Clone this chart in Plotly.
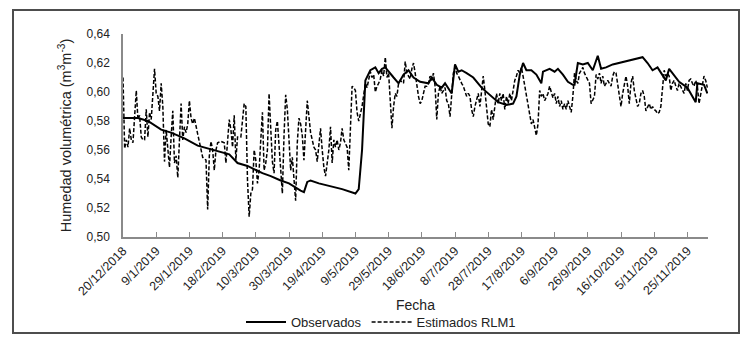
import pandas as pd
import plotly.graph_objects as go

# Series start date; x values are day offsets from it
START = pd.Timestamp("2018-12-20")

# Observed volumetric moisture (day offset, value)
obs_days = [0, 9, 15, 19, 23, 29, 37, 45, 55, 64,
            69, 75, 84, 89, 95, 100, 107, 109, 111, 113,
            118, 125, 132, 140, 142, 144, 146, 149, 152, 154,
            156, 158, 160, 163, 166, 169, 172, 175, 179, 184,
            186, 189, 192, 194, 198, 200, 202, 204, 207, 211,
            216, 221, 226, 231, 235, 237, 239, 241, 243, 246,
            249, 252, 253, 257, 260, 262, 265, 268, 271, 272,
            274, 277, 280, 283, 286, 288, 291, 295, 299, 303,
            313, 316, 319, 322, 327, 329, 335, 340, 345, 346,
            350, 352]
obs_values = [0.582, 0.582, 0.580, 0.577, 0.574, 0.572, 0.568, 0.563, 0.560, 0.557,
              0.551, 0.549, 0.544, 0.542, 0.539, 0.537, 0.532, 0.531, 0.538, 0.539,
              0.537, 0.535, 0.533, 0.530, 0.533, 0.560, 0.608, 0.615, 0.617, 0.613,
              0.616, 0.617, 0.614, 0.610, 0.606, 0.612, 0.615, 0.610, 0.607, 0.606,
              0.610, 0.605, 0.603, 0.606, 0.599, 0.619, 0.614, 0.615, 0.613, 0.610,
              0.603, 0.598, 0.593, 0.591, 0.592, 0.597, 0.612, 0.620, 0.615, 0.615,
              0.612, 0.606, 0.614, 0.616, 0.614, 0.616, 0.612, 0.607, 0.605, 0.605,
              0.620, 0.619, 0.620, 0.615, 0.625, 0.616, 0.617, 0.619, 0.620, 0.621,
              0.624, 0.620, 0.615, 0.617, 0.608, 0.616, 0.607, 0.603, 0.593, 0.606,
              0.605, 0.599]

# Model estimates (RLM1)
est_days = [0, 1, 2, 3, 4, 5, 6, 8, 9, 10,
            11, 12, 13, 14, 15, 16, 17, 19, 20, 21,
            22, 23, 24, 25, 26, 27, 28, 29, 30, 31,
            32, 33, 34, 35, 36, 37, 38, 39, 40, 41,
            42, 43, 45, 47, 48, 50, 51, 52, 53, 54,
            55, 56, 57, 59, 61, 62, 64, 65, 66, 67,
            68, 69, 71, 73, 74, 75, 76, 77, 78, 79,
            80, 81, 82, 83, 84, 85, 86, 87, 88, 89,
            90, 91, 92, 93, 94, 95, 96, 97, 98, 99,
            100, 101, 102, 103, 104, 105, 106, 107, 108, 109,
            110, 111, 112, 113, 115, 116, 117, 119, 120, 121,
            122, 123, 124, 125, 126, 127, 128, 129, 130, 131,
            132, 133, 135, 136, 137, 138, 139, 140, 141, 142,
            143, 144, 145, 146, 147, 148, 149, 150, 151, 152,
            153, 154, 155, 156, 157, 158, 159, 160, 161, 162,
            163, 164, 165, 166, 167, 168, 169, 170, 171, 172,
            173, 174, 175, 176, 177, 178, 179, 180, 181, 182,
            183, 184, 185, 186, 187, 188, 189, 190, 191, 192,
            193, 194, 195, 196, 197, 198, 199, 200, 201, 202,
            203, 204, 205, 206, 207, 208, 209, 210, 211, 212,
            213, 214, 215, 216, 217, 218, 219, 220, 221, 222,
            223, 224, 225, 226, 227, 228, 229, 230, 231, 232,
            233, 234, 235, 236, 237, 238, 239, 240, 241, 242,
            243, 244, 245, 246, 247, 248, 249, 250, 251, 252,
            253, 254, 255, 256, 257, 258, 259, 260, 261, 262,
            263, 264, 265, 266, 267, 268, 269, 270, 271, 272,
            273, 274, 275, 276, 277, 278, 279, 280, 281, 282,
            283, 284, 285, 286, 287, 288, 289, 290, 291, 292,
            293, 294, 295, 296, 297, 298, 299, 300, 301, 302,
            303, 304, 305, 306, 307, 308, 309, 310, 311, 312,
            313, 314, 315, 316, 317, 318, 319, 320, 321, 322,
            323, 324, 325, 326, 327, 328, 329, 330, 331, 332,
            333, 334, 335, 336, 337, 338, 339, 340, 341, 342,
            343, 344, 345, 346, 347, 348, 349, 350, 351, 352]
est_values = [0.610, 0.561, 0.567, 0.562, 0.575, 0.567, 0.565, 0.601, 0.581, 0.584,
              0.569, 0.567, 0.567, 0.588, 0.569, 0.586, 0.581, 0.616, 0.599, 0.597,
              0.587, 0.606, 0.590, 0.552, 0.574, 0.562, 0.548, 0.569, 0.587, 0.551,
              0.556, 0.541, 0.569, 0.592, 0.567, 0.576, 0.572, 0.578, 0.594, 0.582,
              0.578, 0.582, 0.571, 0.560, 0.555, 0.553, 0.519, 0.556, 0.566, 0.560,
              0.546, 0.560, 0.565, 0.566, 0.565, 0.551, 0.581, 0.574, 0.562, 0.584,
              0.553, 0.569, 0.569, 0.592, 0.590, 0.539, 0.514, 0.530, 0.533, 0.560,
              0.553, 0.537, 0.546, 0.567, 0.586, 0.546, 0.551, 0.560, 0.599, 0.575,
              0.552, 0.544, 0.574, 0.580, 0.562, 0.540, 0.530, 0.570, 0.598, 0.588,
              0.567, 0.546, 0.555, 0.536, 0.525, 0.565, 0.582, 0.578, 0.570, 0.553,
              0.578, 0.594, 0.583, 0.572, 0.562, 0.560, 0.552, 0.575, 0.560, 0.548,
              0.542, 0.550, 0.560, 0.576, 0.551, 0.567, 0.562, 0.567, 0.560, 0.565,
              0.575, 0.567, 0.562, 0.546, 0.576, 0.604, 0.603, 0.601, 0.586, 0.580,
              0.585, 0.590, 0.598, 0.606, 0.603, 0.610, 0.614, 0.610, 0.612, 0.600,
              0.604, 0.606, 0.609, 0.615, 0.611, 0.624, 0.610, 0.613, 0.595, 0.575,
              0.590, 0.599, 0.597, 0.606, 0.608, 0.607, 0.606, 0.621, 0.613, 0.611,
              0.609, 0.616, 0.620, 0.613, 0.604, 0.597, 0.592, 0.594, 0.599, 0.604,
              0.604, 0.606, 0.611, 0.608, 0.613, 0.604, 0.581, 0.599, 0.604, 0.599,
              0.601, 0.603, 0.594, 0.592, 0.583, 0.599, 0.613, 0.617, 0.613, 0.611,
              0.608, 0.606, 0.604, 0.601, 0.597, 0.599, 0.597, 0.588, 0.583, 0.590,
              0.595, 0.599, 0.590, 0.600, 0.611, 0.601, 0.590, 0.578, 0.576, 0.588,
              0.581, 0.592, 0.599, 0.592, 0.599, 0.594, 0.599, 0.588, 0.597, 0.592,
              0.599, 0.594, 0.601, 0.608, 0.611, 0.615, 0.613, 0.617, 0.611, 0.604,
              0.597, 0.590, 0.583, 0.578, 0.581, 0.576, 0.570, 0.578, 0.601, 0.597,
              0.599, 0.594, 0.597, 0.599, 0.604, 0.599, 0.596, 0.599, 0.592, 0.597,
              0.590, 0.594, 0.588, 0.592, 0.588, 0.594, 0.590, 0.586, 0.597, 0.613,
              0.608, 0.606, 0.613, 0.615, 0.617, 0.613, 0.611, 0.608, 0.606, 0.592,
              0.594, 0.597, 0.612, 0.609, 0.613, 0.606, 0.611, 0.604, 0.606, 0.608,
              0.606, 0.604, 0.611, 0.614, 0.613, 0.604, 0.595, 0.590, 0.599, 0.606,
              0.611, 0.604, 0.592, 0.606, 0.611, 0.601, 0.594, 0.590, 0.592, 0.599,
              0.601, 0.597, 0.587, 0.590, 0.592, 0.588, 0.590, 0.588, 0.587, 0.585,
              0.586, 0.590, 0.606, 0.615, 0.611, 0.613, 0.611, 0.601, 0.606, 0.608,
              0.604, 0.601, 0.606, 0.604, 0.601, 0.599, 0.606, 0.601, 0.608, 0.609,
              0.606, 0.604, 0.608, 0.604, 0.592, 0.599, 0.606, 0.611, 0.608, 0.603]

# Date axis labels, one every 20 days
tick_labels = ["20/12/2018", "9/1/2019", "29/1/2019", "18/2/2019", "10/3/2019",
               "30/3/2019", "19/4/2019", "9/5/2019", "29/5/2019", "18/6/2019",
               "8/7/2019", "28/7/2019", "17/8/2019", "6/9/2019", "26/9/2019",
               "16/10/2019", "5/11/2019", "25/11/2019"]
TICK_STEP_DAYS = 20
LAST_DAY = 352.4

assert len(obs_days) == len(obs_values)
assert len(est_days) == len(est_values)


def to_dates(offsets):
    return START + pd.to_timedelta(offsets, unit="D")


tick_vals = to_dates([i * TICK_STEP_DAYS for i in range(len(tick_labels))])

fig = go.Figure()
fig.add_trace(go.Scatter(
    x=to_dates(obs_days), y=obs_values, mode="lines", name="Observados",
    line=dict(color="#000000", width=2),
))
fig.add_trace(go.Scatter(
    x=to_dates(est_days), y=est_values, mode="lines", name="Estimados RLM1",
    line=dict(color="#000000", width=1.5, dash="4px,2px"),
))

AXIS_GRAY = "#8a8a8a"
TEXT = "#222222"

# Plot area spans 123..708 px horizontally and 34..237 px vertically
L, R, T, B = 123, 42, 34, 113
PW, PH = 750 - L - R, 350 - T - B

fig.update_layout(
    width=750, height=350,
    margin=dict(l=L, r=R, t=T, b=B, pad=0),
    paper_bgcolor="white", plot_bgcolor="white",
    separators=",.",
    font=dict(family="Liberation Sans, Arial, sans-serif", color=TEXT, size=12),
    showlegend=True,
    legend=dict(
        orientation="h", x=(381 - L) / PW, xanchor="center",
        y=(237 - 322) / PH, yanchor="middle",
        font=dict(size=13, color=TEXT), bgcolor="rgba(0,0,0,0)",
        itemwidth=40, tracegroupgap=0,
    ),
    xaxis=dict(
        type="date",
        range=[START, START + pd.Timedelta(days=LAST_DAY)],
        tickmode="array", tickvals=tick_vals, ticktext=tick_labels,
        tickangle=-45, ticks="inside", ticklen=5, tickwidth=1, tickcolor=AXIS_GRAY,
        showline=True, linecolor=AXIS_GRAY, linewidth=1.5,
        showgrid=False, zeroline=False,
        tickfont=dict(size=12.5, color=TEXT),
        title=dict(text="Fecha", font=dict(size=14, color=TEXT), standoff=3),
    ),
    yaxis=dict(
        range=[0.50, 0.64], tick0=0.50, dtick=0.02, tickformat=".2f",
        showline=True, linecolor=AXIS_GRAY, linewidth=1.5,
        ticks="", showgrid=False, zeroline=False,
        ticklabelstandoff=9,
        tickfont=dict(size=12, color=TEXT),
        title=dict(text="Humedad volumétrica (m<sup>3</sup>m<sup>-3</sup>)",
                   font=dict(size=14.5, color=TEXT), standoff=11),
    ),
    shapes=[dict(
        type="rect", xref="paper", yref="paper",
        x0=(13 - L) / PW, x1=(739 - L) / PW,
        y0=(237 - 333) / PH, y1=(237 - 10) / PH,
        line=dict(color="#4d4d4d", width=2), fillcolor="rgba(0,0,0,0)",
        layer="below",
    )],
)

fig.write_html("out.html")
